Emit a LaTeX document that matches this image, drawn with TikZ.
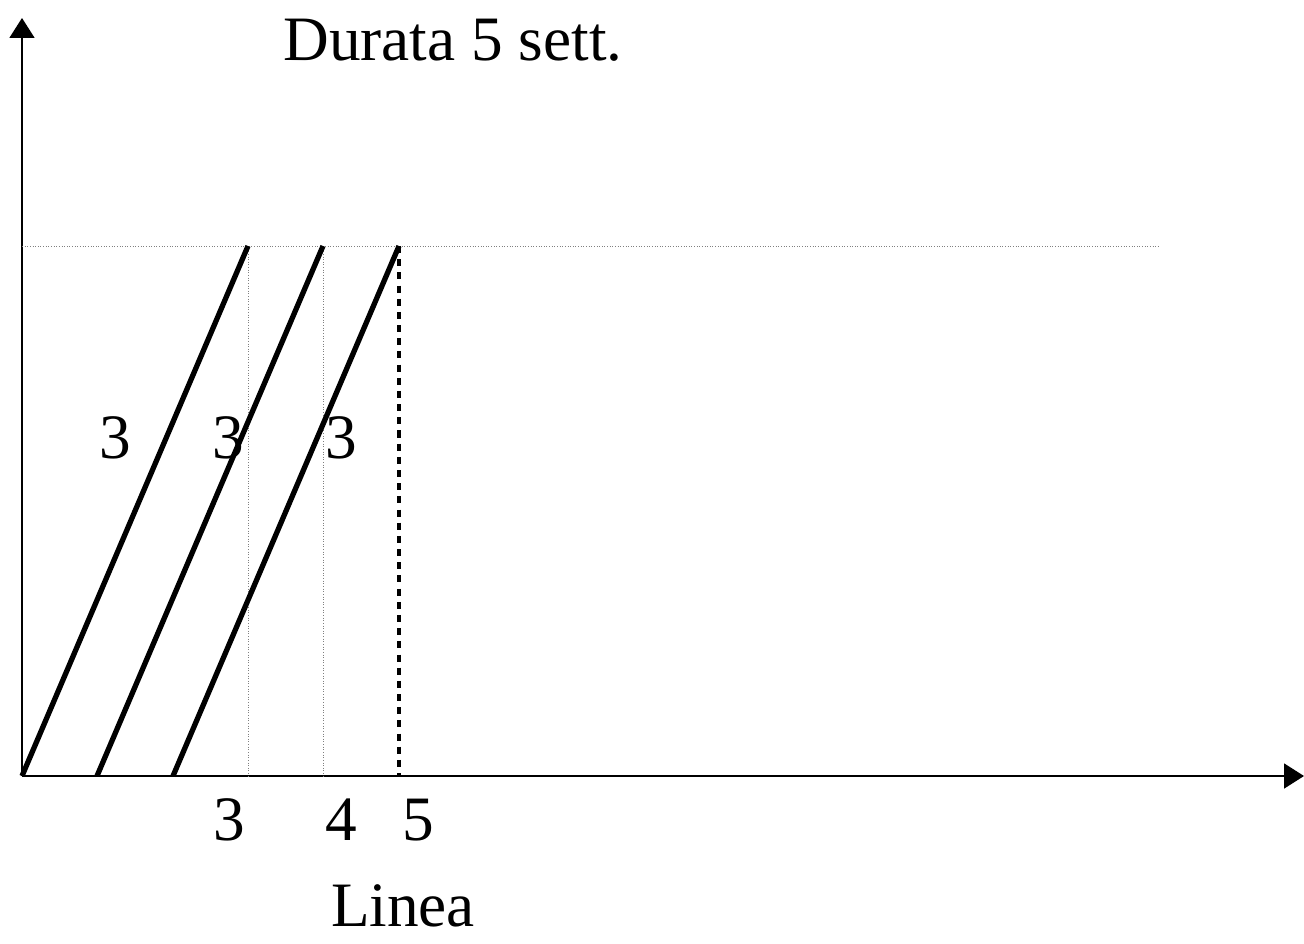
\documentclass[tikz,border=0pt]{standalone}
\usepackage{fontspec}
\setmainfont{Liberation Serif}
\usetikzlibrary{arrows.meta, positioning}

\begin{document}
\begin{tikzpicture}[
    x=0.02cm, y=-0.02cm,
    every node/.style={font=\fontsize{36}{40}\selectfont, inner sep=0pt},
    axis/.style={-{Triangle[length=0.4cm, width=0.5cm]}, line width=1pt},
    task/.style={line width=3pt},
    guide/.style={densely dotted, line width=0.5pt, gray},
    deadline/.style={dash pattern=on 4pt off 3.5pt, line width=1.8pt}
]
\useasboundingbox (0,0) rectangle (1304,943);

% axes
\coordinate (o) at (22,776);
\coordinate (ytop) at (22,18);
\coordinate (xend) at (1304,776);
\draw[axis] (o) -- (ytop);
\draw[axis] (o) -- (xend);

% end level
\coordinate (lvl) at (22,246);
\coordinate (lvlend) at (1158,246);
\draw[guide] (lvl) -- (lvlend);

% start and end of each stage
\coordinate (s1) at (22,776);   \coordinate (e1) at (248,246);
\coordinate (s2) at (97,776);   \coordinate (e2) at (323,246);
\coordinate (s3) at (173,776);  \coordinate (e3) at (399,246);
\coordinate (f1) at (248,776);
\coordinate (f2) at (323,776);
\coordinate (f3) at (399,776);

\draw[guide] (e1) -- (f1);
\draw[guide] (e2) -- (f2);
\draw[deadline] (e3) -- (f3);

\draw[task] (s1) -- (e1);
\draw[task] (s2) -- (e2);
\draw[task] (s3) -- (e3);

% labels
\node (d1) at (115,438) {3};
\node (d2) at (228,438) {3};
\node (d3) at (341,438) {3};
\node (t1) at (229,820) {3};
\node (t2) at (341,820) {4};
\node (t3) at (418,820) {5};
\node (title) at (453,40) {Durata 5 sett.};
\node (xlabel) at (403,906) {Linea};

\end{tikzpicture}
\end{document}
